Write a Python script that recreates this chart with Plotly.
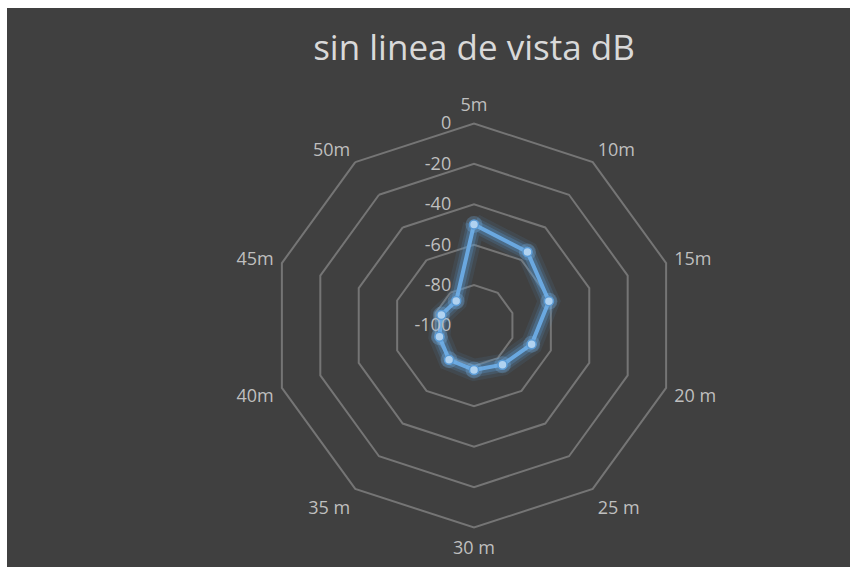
import plotly.graph_objects as go

# Distance labels around the radar and the measured signal level (dB)
categories = ["5m", "10m", "15m", "20 m", "25 m", "30 m", "35 m", "40m", "45m", "50m"]
signal_db = [-50, -55, -61, -70, -76, -78, -79, -82, -83, -85]
radial_ticks = [-100, -80, -60, -40, -20, 0]
radial_tick_labels = [str(v) for v in radial_ticks]

W, H = 850, 567
BG = "#404040"
GRID = "#757575"
TEXT = "#bfbfbf"
LINE = "#5b9bd5"

theta = categories + categories[:1]
r = signal_db + signal_db[:1]

fig = go.Figure()

# soft glow under the series
for width, alpha in [(22, 0.10), (15, 0.18), (10, 0.30)]:
    fig.add_trace(go.Scatterpolar(
        r=r, theta=theta, mode="lines",
        line=dict(color=f"rgba(91,155,213,{alpha})", width=width),
        hoverinfo="skip", showlegend=False,
    ))

fig.add_trace(go.Scatterpolar(
    r=r, theta=theta, mode="lines",
    line=dict(color="#6aa8e0", width=4),
    showlegend=False,
))

# point markers live on an overlaid circular polar (same domain and scales),
# since markers are not rendered on the polygon-shaped subplot
fig.add_trace(go.Scatterpolar(
    r=signal_db, theta=categories, mode="markers", subplot="polar2",
    marker=dict(size=17, color="rgba(120,180,235,0.28)"),
    hoverinfo="skip", showlegend=False,
))
fig.add_trace(go.Scatterpolar(
    r=signal_db, theta=categories, mode="markers", subplot="polar2",
    marker=dict(size=9, color="#b0d2f0", line=dict(color=LINE, width=1.5)),
    showlegend=False,
))

cx, cy, rad = 474, 325.5, 202
domain = dict(x=[(cx - rad) / W, (cx + rad) / W],
              y=[1 - (cy + rad) / H, 1 - (cy - rad) / H])

fig.update_layout(
    width=W, height=H,
    margin=dict(l=0, r=0, t=0, b=0),
    paper_bgcolor="white",
    plot_bgcolor=BG,
    shapes=[dict(type="rect", xref="paper", yref="paper",
                 x0=7 / W, x1=1, y0=0, y1=1 - 8 / H,
                 fillcolor=BG, line=dict(width=0), layer="below")],
    title=dict(text="sin linea de vista dB", x=cx / W, xanchor="center",
               y=1 - 48 / H, yanchor="middle",
               font=dict(family="Open Sans", size=35, color="#d9d9d9")),
    polar=dict(
        domain=domain,
        bgcolor="rgba(0,0,0,0)",
        gridshape="linear",
        radialaxis=dict(
            range=[-100, 0], tickvals=radial_ticks, ticktext=radial_tick_labels,
            angle=90, side="counterclockwise", tickangle=90,
            showline=False, showgrid=True, gridcolor=GRID, gridwidth=2,
            ticks="outside", ticklen=16, tickcolor="rgba(0,0,0,0)",
            tickfont=dict(family="Open Sans", size=18, color=TEXT),
        ),
        angularaxis=dict(
            categoryarray=categories, categoryorder="array",
            rotation=90, direction="clockwise",
            showgrid=False, showline=True, linecolor=GRID, linewidth=2,
            ticks="outside", ticklen=4, tickcolor="rgba(0,0,0,0)",
            tickfont=dict(family="Open Sans", size=18, color=TEXT),
        ),
    ),
    polar2=dict(
        domain=domain,
        bgcolor="rgba(0,0,0,0)",
        radialaxis=dict(range=[-100, 0], angle=90, visible=False),
        angularaxis=dict(
            categoryarray=categories, categoryorder="array",
            rotation=90, direction="clockwise",
            showgrid=False, showline=False, showticklabels=False, ticks="",
        ),
    ),
)

fig.write_html("out.html")
